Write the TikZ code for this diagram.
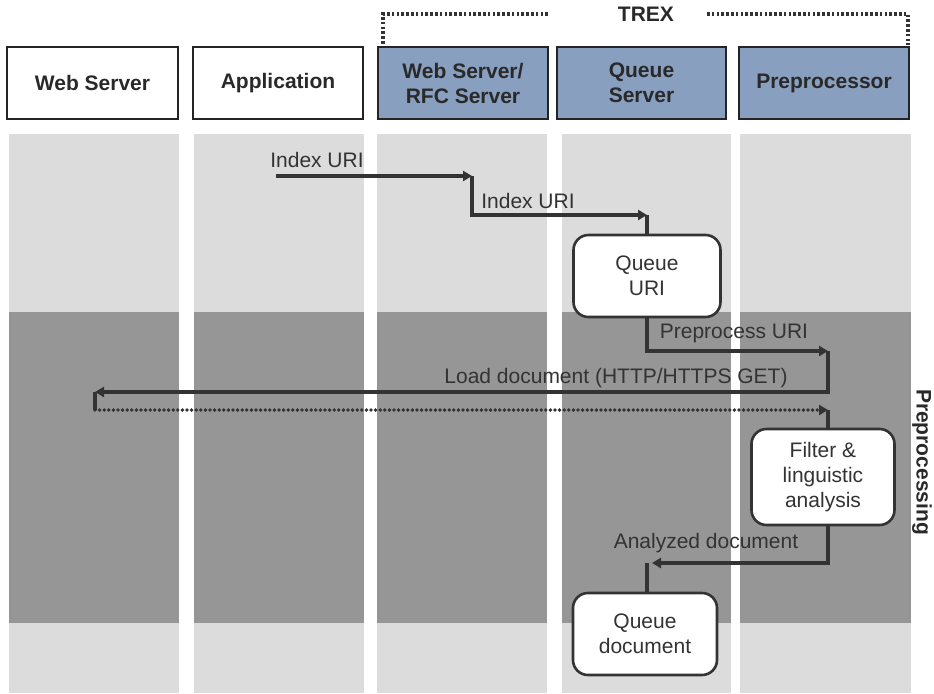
\documentclass[tikz,border=0pt]{standalone}
\usepackage{fontspec}
\setmainfont{Liberation Sans}
\usepackage{tikz}
\usetikzlibrary{arrows.meta,positioning,calc}
\definecolor{ink}{HTML}{333333}
\definecolor{lanegrey}{HTML}{DCDCDC}
\definecolor{bandgrey}{HTML}{969696}
\definecolor{trexblue}{HTML}{889FC0}
\newcommand{\lanefont}{\fontsize{10.5}{12.5}\selectfont}

\begin{document}
\begin{tikzpicture}[x=0.5pt,y=-0.5pt,
  actor/.style={draw=ink!70!black,line width=0.7pt,minimum height=36pt,align=center,font=\lanefont\bfseries,text=ink!80!black},
  trexbox/.style={actor,fill=trexblue},
  task/.style={draw=ink,line width=1.3pt,fill=white,rounded corners=7.5pt,align=center,font=\lanefont,text=ink},
  arr/.style={-{Triangle[length=4.5pt,width=5pt]},line width=1.6pt,ink},
  wire/.style={line width=1.6pt,ink},
  dotarr/.style={-{Triangle[length=4.5pt,width=5pt]},line width=1.9pt,ink,line cap=round,dash pattern=on 0pt off 2.3pt},
  trexline/.style={line width=1.7pt,ink,dash pattern=on 1.3pt off 1.1pt},
  lbl/.style={font=\lanefont,text=ink,inner sep=0pt}
]
  \useasboundingbox (0,0) rectangle (934,693);
  % swim lanes
  \fill[lanegrey] (9,134) rectangle (179,693);
  \fill[lanegrey] (194,134) rectangle (364,693);
  \fill[lanegrey] (377,134) rectangle (547,693);
  \fill[lanegrey] (562,134) rectangle (731,693);
  \fill[lanegrey] (740,134) rectangle (911,693);
  \fill[bandgrey] (9,312) rectangle (179,623);
  \fill[bandgrey] (194,312) rectangle (364,623);
  \fill[bandgrey] (377,312) rectangle (547,623);
  \fill[bandgrey] (562,312) rectangle (731,623);
  \fill[bandgrey] (740,312) rectangle (911,623);

  % header
  \node[actor,minimum width=85.5pt] (websrv) at (92.5,83) {Web Server};
  \node[actor,minimum width=85pt] (app) at (278,83) {Application};
  \node[trexbox,minimum width=85pt] (rfc) at (463,83) {Web Server/\\RFC Server};
  \node[trexbox,minimum width=84.5pt] (queue) at (641.5,83) {Queue\\Server};
  \node[trexbox,minimum width=85pt] (prep) at (824,83) {Preprocessor};
  \node[font=\lanefont\bfseries,text=ink!80!black] (trex) at (646,14) {TREX};
  \draw[trexline] (548,14) -- (383,14) -- (383,45);
  \draw[trexline] (707,14) -- (908,14) -- (908,45);
  \node[font=\lanefont\bfseries,text=ink!80!black,rotate=-90] (phase) at (922,462) {Preprocessing};

  % tasks
  \node[task,minimum width=73.5pt,minimum height=41pt] (queueuri) at (647,276) {Queue\\URI};
  \node[task,minimum width=71.5pt,minimum height=48pt] (filter) at (823,477) {Filter \&\\linguistic\\analysis};
  \node[task,minimum width=72pt,minimum height=41pt] (queuedoc) at (645,634) {Queue\\document};

  % turning points
  \coordinate (ixstart) at (276,176);
  \coordinate (ixrfc) at (472,176);
  \coordinate (ixqueue) at (647,215);
  \coordinate (ppuri) at (828,351);
  \coordinate (loadend) at (95,392);
  \coordinate (getstart) at (95,410);
  \coordinate (getend) at (828,410);
  \coordinate (anatip) at (652,563);
  \coordinate (anastub) at (647,563);

  % messages
  \draw[arr] (ixstart) -- (ixrfc);
  \draw[arr] (ixrfc) |- (ixqueue);
  \draw[wire] (ixqueue) -- (queueuri.north);
  \draw[arr] (queueuri.south) |- (ppuri);
  \draw[arr] (ppuri) |- (loadend);
  \draw[wire] (loadend) -- (getstart);
  \draw[dotarr] (getstart) -- (getend);
  \draw[wire] (getend) -- (getend |- filter.north);
  \draw[arr] (getend |- filter.south) |- (anatip);
  \draw[wire] (anastub) -- (anastub |- queuedoc.north);

  % message labels
  \node[lbl] (l-ix1) at (317,160) {Index URI};
  \node[lbl] (l-ix2) at (528,201) {Index URI};
  \node[lbl] (l-pp) at (734,333) {Preprocess URI};
  \node[lbl] (l-load) at (616,378) {Load document (HTTP/HTTPS GET)};
  \node[lbl] (l-ana) at (706,543) {Analyzed document};
\end{tikzpicture}
\end{document}
